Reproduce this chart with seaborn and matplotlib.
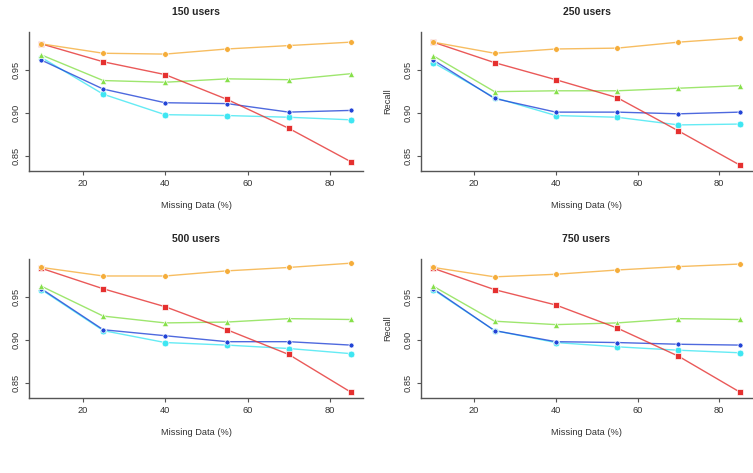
#!/usr/bin/env python3
"""Recall vs missing data for four user counts (2x2 panel figure)."""

import matplotlib

matplotlib.use("Agg")
import matplotlib.pyplot as plt
import numpy as np
import pandas as pd
import seaborn as sns

MISSING = [10, 25, 40, 55, 70, 85]
PANELS = ["150 users", "250 users", "500 users", "750 users"]

# recall per series, one list per panel
ORANGE = [
    [0.981, 0.970, 0.969, 0.975, 0.979, 0.983],
    [0.983, 0.970, 0.975, 0.976, 0.983, 0.988],
    [0.985, 0.975, 0.975, 0.981, 0.985, 0.990],
    [0.985, 0.974, 0.977, 0.982, 0.986, 0.989],
]
RED = [
    [0.981, 0.960, 0.945, 0.916, 0.882, 0.843],
    [0.983, 0.959, 0.939, 0.918, 0.879, 0.839],
    [0.984, 0.960, 0.939, 0.912, 0.883, 0.839],
    [0.984, 0.959, 0.941, 0.914, 0.881, 0.839],
]
GREEN = [
    [0.968, 0.938, 0.936, 0.940, 0.939, 0.946],
    [0.967, 0.925, 0.926, 0.926, 0.929, 0.932],
    [0.963, 0.928, 0.920, 0.921, 0.925, 0.924],
    [0.963, 0.922, 0.918, 0.920, 0.925, 0.924],
]
BLUE = [
    [0.962, 0.928, 0.912, 0.911, 0.901, 0.903],
    [0.962, 0.917, 0.901, 0.901, 0.899, 0.901],
    [0.960, 0.912, 0.905, 0.898, 0.898, 0.894],
    [0.960, 0.911, 0.898, 0.897, 0.895, 0.894],
]
CYAN = [
    [0.965, 0.922, 0.898, 0.897, 0.895, 0.892],
    [0.959, 0.918, 0.897, 0.895, 0.886, 0.887],
    [0.959, 0.911, 0.897, 0.894, 0.890, 0.884],
    [0.959, 0.911, 0.897, 0.892, 0.888, 0.885],
]

SERIES = [
    # name, data, color, marker, size
    ("cyan", CYAN, "#3fe6f2", "o", 24),
    ("blue", BLUE, "#2244d6", "o", 13),
    ("green", GREEN, "#86e04a", "^", 21),
    ("red", RED, "#e5302f", "s", 17),
    ("orange", ORANGE, "#f5ad3a", "o", 17),
]


def setup_style() -> None:
    sns.set_theme(style="white", context="paper")
    plt.rcParams.update(
        {
            "font.family": ["Liberation Sans", "DejaVu Sans"],
            "font.size": 6.5,
            "axes.edgecolor": "#555555",
            "axes.linewidth": 1.0,
            "xtick.color": "#555555",
            "ytick.color": "#555555",
            "xtick.labelcolor": "#333333",
            "ytick.labelcolor": "#333333",
            "xtick.major.size": 3,
            "ytick.major.size": 3,
            "xtick.major.width": 0.8,
            "ytick.major.width": 0.8,
            "xtick.labelsize": 6.7,
            "ytick.labelsize": 6.7,
            "axes.labelsize": 6.7,
            "axes.labelcolor": "#333333",
        }
    )


def draw_panel(ax: plt.Axes, idx: int, show_ylabel: bool) -> None:
    for name, data, color, marker, size in SERIES:
        df = pd.DataFrame({"x": MISSING, "y": data[idx]})
        sns.lineplot(data=df, x="x", y="y", color=color, linewidth=1.0, alpha=0.8, ax=ax)
        sns.scatterplot(data=df, x="x", y="y", color=color, marker=marker, s=size,
                        edgecolor="white", linewidth=0.5, zorder=3, ax=ax)
    ax.set_xlim(7, 88)
    ax.set_ylim(0.832, 0.9949)
    ax.set_xticks([20, 40, 60, 80])
    ax.set_yticks([0.85, 0.90, 0.95])
    ax.set_yticklabels(["0.85", "0.90", "0.95"], rotation=90, va="center")
    ax.tick_params(axis="both", direction="out", bottom=True, left=True, pad=3)
    ax.set_xlabel("Missing Data (%)", labelpad=9)
    ax.set_ylabel("Recall" if show_ylabel else "", labelpad=8)
    ax.set_title(PANELS[idx], fontweight="bold", fontsize=7.5, pad=12)
    sns.despine(ax=ax)


def main() -> None:
    setup_style()
    fig = plt.figure(figsize=(7.53, 4.73), dpi=100)
    W, H = 753, 473
    boxes = [
        (29, 32, 363, 171),
        (421, 32, 752, 171),
        (29, 259, 363, 398),
        (421, 259, 752, 398),
    ]
    for i, (x0, y0, x1, y1) in enumerate(boxes):
        ax = fig.add_axes([x0 / W, 1 - y1 / H, (x1 - x0) / W, (y1 - y0) / H])
        draw_panel(ax, i, show_ylabel=(i % 2 == 1))
    fig.savefig("out.png", dpi=100, facecolor="white")
    plt.close(fig)


if __name__ == "__main__":
    main()
